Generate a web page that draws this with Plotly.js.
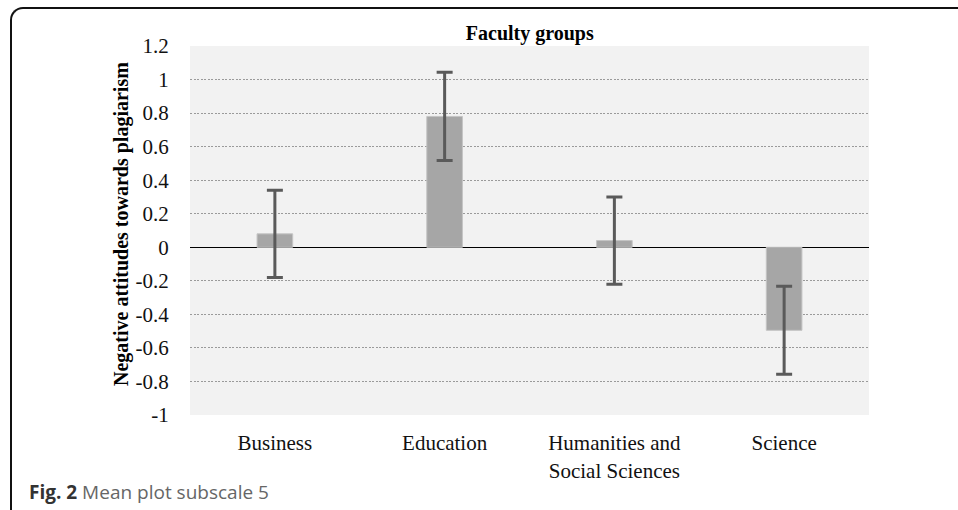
<!DOCTYPE html>
<html>
<head>
<meta charset="utf-8">
<script src="https://cdn.plot.ly/plotly-3.0.1.min.js"></script>
<style>
  html, body { margin: 0; padding: 0; background: #ffffff; }
  #wrap { position: relative; width: 958px; height: 510px; overflow: hidden; }
  #chart { width: 958px; height: 510px; }
  #frame { position: absolute; left: 10px; top: 7px; width: 960px; height: 520px;
           border-top: 2px solid #111; border-left: 2px solid #111;
           border-top-left-radius: 13px; pointer-events: none; }
</style>
</head>
<body>
<div id="wrap">
  <div id="chart"></div>
  <div id="frame"></div>
</div>
<script>
const categories = ["Business", "Education", "Humanities and<br>Social Sciences", "Science"];
const means = [0.08, 0.78, 0.04, -0.495];
const errors = [0.26, 0.263, 0.26, 0.262];
const yTickVals = [-1, -0.8, -0.6, -0.4, -0.2, 0, 0.2, 0.4, 0.6, 0.8, 1, 1.2];
const yTickText = ["-1", "-0.8", "-0.6", "-0.4", "-0.2", "0", "0.2", "0.4", "0.6", "0.8", "1", "1.2"];

const serif = "'Liberation Serif', 'Times New Roman', serif";

const trace = {
  type: "bar",
  x: categories,
  y: means,
  width: 0.21,
  marker: { color: "#a6a6a6", line: { color: "#c4c4c4", width: 1 } },
  error_y: { type: "data", array: errors, visible: true, color: "#5a5a5a", thickness: 3, width: 8 },
  hoverinfo: "none"
};

const layout = {
  width: 958, height: 510,
  margin: { l: 190, r: 89, t: 46, b: 95 },
  paper_bgcolor: "rgba(0,0,0,0)",
  plot_bgcolor: "#f2f2f2",
  showlegend: false,
  title: { text: "<b>Faculty groups</b>", font: { family: serif, size: 20, color: "#000" },
           x: 0.553, xanchor: "center", y: 0.935, yanchor: "middle" },
  xaxis: {
    type: "category",
    tickfont: { family: serif, size: 21, color: "#111" },
    ticks: "outside", ticklen: 9, tickcolor: "rgba(0,0,0,0)",
    showline: false, showgrid: false, zeroline: false
  },
  yaxis: {
    range: [-1, 1.2],
    tickvals: yTickVals, ticktext: yTickText,
    tickfont: { family: serif, size: 21, color: "#111" },
    ticks: "outside", ticklen: 16, tickcolor: "rgba(0,0,0,0)",
    showgrid: true, gridcolor: "#9a9a9a", griddash: "2px,1.5px", gridwidth: 1,
    zeroline: true, zerolinecolor: "#000", zerolinewidth: 1.3,
    showline: false
  },
  annotations: [{
    xref: "paper", yref: "paper",
    x: (122 - 190) / 679, y: (415 - 224) / 369,
    xanchor: "center", yanchor: "middle", showarrow: false, textangle: -90,
    text: "<b>Negative attitudes towards plagiarism</b>",
    font: { family: serif, size: 20, color: "#000" }
  }, {
    xref: "paper", yref: "paper",
    x: (27 - 190) / 679, y: (415 - 492) / 369,
    xanchor: "left", yanchor: "middle", showarrow: false,
    text: "<b style='color:#333'>Fig. 2</b> Mean plot subscale 5",
    font: { family: "'Open Sans', 'Noto Sans', sans-serif", size: 19, color: "#666" }
  }]
};

Plotly.newPlot("chart", [trace], layout, { staticPlot: true, displayModeBar: false });
</script>
</body>
</html>
